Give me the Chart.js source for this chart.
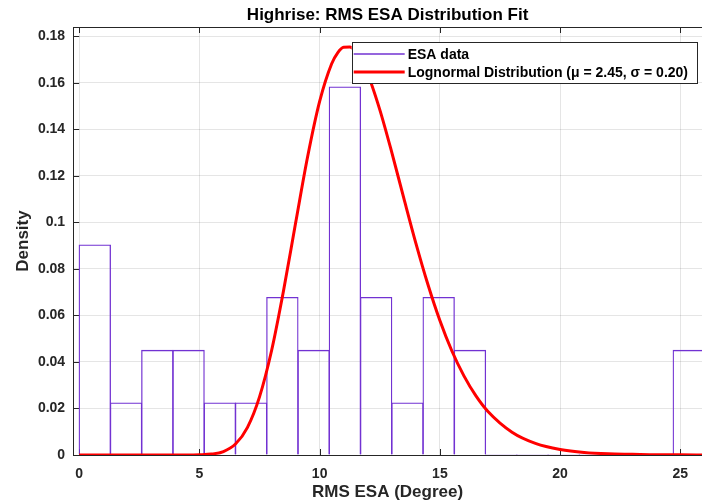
<!DOCTYPE html>
<html>
<head>
<meta charset="utf-8">
<script src="https://cdn.jsdelivr.net/npm/chart.js@4.4.0/dist/chart.umd.min.js"></script>
<style>
  html, body { margin: 0; padding: 0; background: #fff; }
  #wrap { width: 702px; height: 503px; }
</style>
</head>
<body>
<div id="wrap"><canvas id="esaChart" width="702" height="503"></canvas></div>
<script>
// histogram bins (RMS ESA, degree) and density
const binEdges = [0, 1.3, 2.6, 3.9, 5.2, 6.5, 7.8, 9.1, 10.4, 11.7, 13.0, 14.3, 15.6, 16.9, 18.2, 19.5, 20.8, 22.1, 23.4, 24.7, 26.0];
const density = [0.0905, 0.0226, 0.0452, 0.0452, 0.0226, 0.0226, 0.0679, 0.0452, 0.1584, 0.0679, 0.0226, 0.0679, 0.0452, 0, 0, 0, 0, 0, 0, 0.0452];

// fitted lognormal curve, sampled from the figure
const curveX = [0, 1, 2, 3, 4, 4.5, 5, 5.5, 6, 6.5, 7, 7.5, 8, 8.5, 9, 9.5, 10, 10.5, 10.75, 11, 11.25, 11.5, 12, 12.5, 13, 13.5, 14, 14.5, 15, 15.5, 16, 16.5, 17, 18, 19, 20, 21, 22, 23, 24, 25, 26];
const curveY = [0, 0, 0, 0, 0, 0, 0.0001, 0.0004, 0.0015, 0.0047, 0.0119, 0.025, 0.0448, 0.0707, 0.0997, 0.1282, 0.152, 0.1682, 0.1729, 0.1753, 0.1754, 0.1733, 0.1637, 0.1485, 0.1301, 0.1104, 0.0911, 0.0734, 0.0578, 0.0447, 0.034, 0.0254, 0.0187, 0.0098, 0.0049, 0.0024, 0.0011, 0.0005, 0.0003, 0.0001, 0.0001, 0];

const xTicks = [0, 5, 10, 15, 20, 25];
const yTicks = [0, 0.02, 0.04, 0.06, 0.08, 0.1, 0.12, 0.14, 0.16, 0.18];

const histLabel = 'ESA data';
const fitLabel = 'Lognormal Distribution (\u03bc = 2.45, \u03c3 = 0.20)';
const chartTitle = 'Highrise: RMS ESA Distribution Fit';

const axisColor = '#262626';
const fontFamily = '"Liberation Sans", Arial, Helvetica, sans-serif';

const histData = density.map((d, i) => ({ x: (binEdges[i] + binEdges[i + 1]) / 2, y: d }));
const curveData = curveX.map((x, i) => ({ x: x, y: curveY[i] }));

// MATLAB style inward ticks and a legend inside the axes
const matlabBox = {
  id: 'matlabBox',
  beforeDatasetsDraw(chart) {
    const { ctx, chartArea: a, scales } = chart;
    ctx.save();
    ctx.strokeStyle = axisColor;
    ctx.lineWidth = 1;
    ctx.beginPath();
    xTicks.forEach((v) => {
      const px = Math.round(scales.x.getPixelForValue(v)) + 0.5;
      ctx.moveTo(px, a.bottom);
      ctx.lineTo(px, a.bottom - 6);
      ctx.moveTo(px, a.top);
      ctx.lineTo(px, a.top + 6);
    });
    yTicks.forEach((v) => {
      const py = Math.round(scales.y.getPixelForValue(v)) + 0.5;
      ctx.moveTo(a.left, py);
      ctx.lineTo(a.left + 6, py);
    });
    ctx.stroke();
    ctx.restore();
  },
  afterDraw(chart) {
    const { ctx, chartArea: a } = chart;
    const ds = chart.data.datasets;
    ctx.save();
    ctx.font = 'bold 14px ' + fontFamily;
    const textW = Math.max(...ds.map((d) => ctx.measureText(d.label).width));
    const boxW = 56 + textW + 9;
    const boxR = a.right - 5;
    const boxL = boxR - boxW;
    const boxT = a.top + 15;
    const boxH = 41;
    ctx.fillStyle = '#fff';
    ctx.fillRect(boxL, boxT, boxW, boxH);
    ctx.strokeStyle = '#262626';
    ctx.lineWidth = 1;
    ctx.strokeRect(Math.round(boxL) + 0.5, boxT + 0.5, Math.round(boxW), boxH);
    ds.forEach((d, i) => {
      const ry = boxT + 12 + i * 18;
      ctx.strokeStyle = d.borderColor;
      ctx.lineWidth = i === 0 ? 1.5 : 3;
      ctx.beginPath();
      ctx.moveTo(boxL + 2, ry);
      ctx.lineTo(boxL + 53, ry);
      ctx.stroke();
      ctx.fillStyle = '#000';
      ctx.textBaseline = 'middle';
      ctx.fillText(d.label, boxL + 56, ry + 1);
    });
    ctx.restore();
  },
};

const titleFont = { family: fontFamily, size: 17, weight: 'bold', lineHeight: 1 };
const tickFont = { family: fontFamily, size: 14, weight: 'bold' };

const chart = new Chart(document.getElementById('esaChart'), {
  type: 'bar',
  data: {
    datasets: [
      {
        label: histLabel,
        data: histData,
        backgroundColor: 'rgba(0,0,0,0)',
        borderColor: '#7232d2',
        borderWidth: 1.3,
        minBarLength: 1,
        barPercentage: 1.035,
        categoryPercentage: 1,
        order: 2,
      },
      {
        type: 'line',
        label: fitLabel,
        data: curveData,
        borderColor: '#ff0000',
        borderWidth: 3,
        pointRadius: 0,
        cubicInterpolationMode: 'monotone',
        fill: false,
        order: 1,
      },
    ],
  },
  options: {
    responsive: false,
    animation: false,
    layout: { padding: { left: 12, right: 0, top: 0, bottom: 2.5 } },
    plugins: {
      legend: { display: false },
      tooltip: { enabled: false },
    },
    scales: {
      x: {
        type: 'linear',
        min: -0.25,
        max: 25.9,
        offset: false,
        grid: { offset: false, color: 'rgba(0,0,0,0.1)', drawTicks: false },
        border: { color: axisColor },
        afterBuildTicks: (axis) => { axis.ticks = xTicks.map((v) => ({ value: v })); },
        ticks: { padding: 10.5, color: axisColor, font: tickFont, maxRotation: 0 },
        title: {
          display: true,
          text: 'RMS ESA (Degree)',
          color: axisColor,
          font: titleFont,
          padding: { top: -9.3, bottom: 0 },
        },
      },
      // top axis: box border and the chart title centred over the plot
      xTop: {
        type: 'linear',
        position: 'top',
        min: -0.25,
        max: 25.9,
        offset: false,
        grid: { display: false, drawTicks: false },
        border: { color: axisColor },
        ticks: { display: false },
        title: {
          display: true,
          text: chartTitle,
          color: '#000',
          font: titleFont,
          padding: { top: 6.5, bottom: 3.5 },
        },
      },
      y: {
        min: 0,
        max: 0.184,
        grid: { color: 'rgba(0,0,0,0.1)', drawTicks: false },
        border: { color: axisColor },
        afterBuildTicks: (axis) => { axis.ticks = yTicks.map((v) => ({ value: v })); },
        ticks: {
          padding: 8,
          color: axisColor,
          font: tickFont,
          callback: (v) => String(+Number(v).toFixed(2)),
        },
        title: {
          display: true,
          text: 'Density',
          color: axisColor,
          font: { family: fontFamily, size: 17, weight: 'bold' },
          padding: { top: 1.5, bottom: -4 },
        },
      },
    },
  },
  plugins: [matlabBox],
});
</script>
</body>
</html>
